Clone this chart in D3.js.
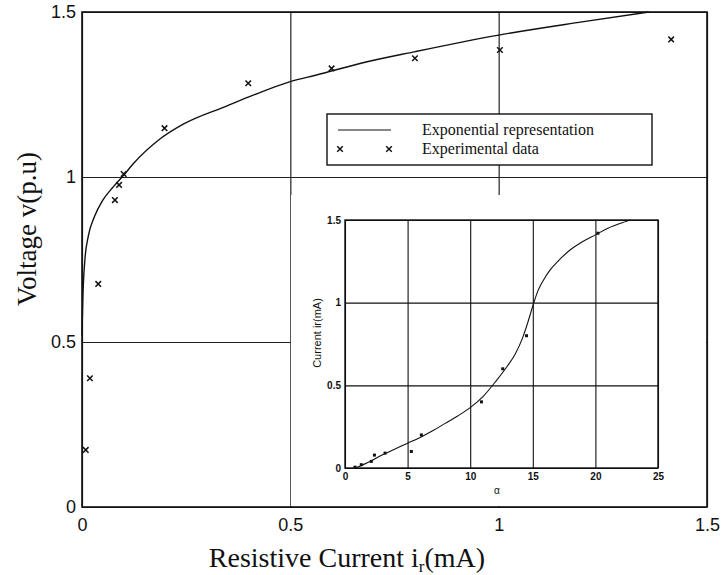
<!DOCTYPE html>
<html lang="en">
<head>
<meta charset="UTF-8">
<title>Voltage vs resistive current</title>
<script src="https://d3js.org/d3.v7.min.js"></script>
<style>
  body { margin: 0; background: #fff; }
  svg { display: block; }
  .serif { font-family: "Liberation Serif", "Times New Roman", serif; fill: #111; }
  .sans { font-family: "Liberation Sans", Arial, sans-serif; fill: #111; }
</style>
</head>
<body>
<script>
// main plot: fitted exponential curve (current mA, voltage p.u)
var mainCurve = [
  [0, 0.52], [0.002, 0.63], [0.007, 0.75], [0.015, 0.82], [0.03, 0.88],
  [0.05, 0.93], [0.075, 0.97], [0.103, 1.01], [0.123, 1.04], [0.187, 1.115],
  [0.243, 1.16], [0.347, 1.215], [0.411, 1.248], [0.5, 1.289], [0.563, 1.309],
  [0.667, 1.344], [0.8, 1.38], [1.0, 1.43], [1.2, 1.47], [1.36, 1.5]
];
// main plot: experimental points
var mainData = [
  [0.009, 0.173], [0.019, 0.39], [0.039, 0.676], [0.079, 0.93], [0.089, 0.976],
  [0.1, 1.009], [0.198, 1.148], [0.399, 1.284], [0.599, 1.329], [0.799, 1.36],
  [1.003, 1.385], [1.414, 1.417]
];
var mainTicks = [0, 0.5, 1, 1.5];

// inset: current vs alpha
var insetCurve = [
  [0.8, 0.0], [2, 0.04], [3, 0.08], [4, 0.115], [5, 0.15], [6, 0.185], [7, 0.225],
  [8, 0.27], [9, 0.315], [10, 0.365], [11, 0.43], [12, 0.52], [13, 0.62],
  [13.6, 0.69], [14.2, 0.79], [14.6, 0.88], [15, 0.98], [15.4, 1.07], [15.8, 1.13],
  [16.4, 1.2], [17, 1.25], [18, 1.32], [19, 1.37], [20, 1.41], [21, 1.45],
  [22, 1.48], [22.8, 1.5]
];
var insetData = [
  [0.8, 0.005], [1.3, 0.02], [2.1, 0.04], [2.35, 0.078], [3.2, 0.09], [5.3, 0.1],
  [6.1, 0.2], [10.9, 0.4], [12.6, 0.6], [14.5, 0.8], [20.2, 1.42]
];
var insetXTicks = [0, 5, 10, 15, 20, 25];
var insetYTicks = [0, 0.5, 1, 1.5];

var legendItems = ["Exponential representation", "Experimental data"];

var width = 722, height = 575;
var svg = d3.select("body").append("svg").attr("width", width).attr("height", height);

// ---------- main axes ----------
var x = d3.scaleLinear().domain([0, 1.5]).range([82, 707]);
var y = d3.scaleLinear().domain([0, 1.5]).range([507, 12]);

// grid lines
svg.append("g").attr("transform", "translate(0,507)")
  .call(d3.axisBottom(x).tickValues(mainTicks).tickSize(-495).tickFormat(""))
  .call(g => g.select(".domain").remove())
  .selectAll("line").attr("stroke", "#222").attr("stroke-width", 1.2);
svg.append("g").attr("transform", "translate(82,0)")
  .call(d3.axisLeft(y).tickValues(mainTicks).tickSize(-625).tickFormat(""))
  .call(g => g.select(".domain").remove())
  .selectAll("line").attr("stroke", "#222").attr("stroke-width", 1.2);

// tick labels
var xl = svg.append("g").attr("transform", "translate(0,510)")
  .call(d3.axisBottom(x).tickValues(mainTicks).tickSize(0).tickPadding(8).tickFormat(d3.format("")));
xl.select(".domain").remove();
xl.selectAll("text").attr("class", "sans").style("font-size", "18px").attr("font-family", null);
var yl = svg.append("g").attr("transform", "translate(79,0)")
  .call(d3.axisLeft(y).tickValues(mainTicks).tickSize(0).tickPadding(3).tickFormat(d3.format("")));
yl.select(".domain").remove();
yl.selectAll("text").attr("class", "sans").style("font-size", "18px").attr("font-family", null);

// curve and points
var line = d3.line().x(d => x(d[0])).y(d => y(d[1])).curve(d3.curveMonotoneX);
svg.append("path").datum(mainCurve).attr("d", line)
  .attr("fill", "none").attr("stroke", "#111").attr("stroke-width", 1.4);

var cross = d3.symbol().type(d3.symbolX).size(22);
svg.append("g").selectAll("path").data(mainData).enter().append("path")
  .attr("d", cross)
  .attr("transform", d => "translate(" + x(d[0]) + "," + y(d[1]) + ")")
  .attr("fill", "none").attr("stroke", "#111").attr("stroke-width", 1.5);

// legend
var lg = svg.append("g");
lg.append("rect").attr("x", 327).attr("y", 114).attr("width", 325).attr("height", 51)
  .attr("fill", "#fff").attr("stroke", "#111").attr("stroke-width", 1.4);
lg.append("line").attr("x1", 338).attr("x2", 391).attr("y1", 130).attr("y2", 130)
  .attr("stroke", "#111").attr("stroke-width", 1.2);
lg.selectAll(".lgx").data([340, 389]).enter().append("path")
  .attr("d", cross).attr("transform", d => "translate(" + d + ",149)")
  .attr("fill", "none").attr("stroke", "#111").attr("stroke-width", 1.5);
lg.selectAll("text").data(legendItems).enter().append("text")
  .attr("class", "serif").attr("x", 422).attr("y", (d, i) => 135 + i * 19)
  .style("font-size", "16px").text(d => d);

// ---------- inset ----------
svg.append("rect").attr("x", 291).attr("y", 195).attr("width", 415).attr("height", 311).attr("fill", "#fff");

var ix = d3.scaleLinear().domain([0, 25]).range([345, 658]);
var iy = d3.scaleLinear().domain([0, 1.5]).range([468, 220]);

svg.append("g").attr("transform", "translate(0,468)")
  .call(d3.axisBottom(ix).tickValues(insetXTicks).tickSize(-248).tickFormat(""))
  .call(g => g.select(".domain").remove())
  .selectAll("line").attr("stroke", "#111").attr("stroke-width", 1.1);
svg.append("g").attr("transform", "translate(345,0)")
  .call(d3.axisLeft(iy).tickValues(insetYTicks).tickSize(-313).tickFormat(""))
  .call(g => g.select(".domain").remove())
  .selectAll("line").attr("stroke", "#111").attr("stroke-width", 1.1);

var ixl = svg.append("g").attr("transform", "translate(0,469)")
  .call(d3.axisBottom(ix).tickValues(insetXTicks).tickSize(0).tickPadding(4).tickFormat(d3.format("")));
ixl.select(".domain").remove();
ixl.selectAll("text").attr("class", "sans").style("font-size", "10px").style("font-weight", "bold").attr("font-family", null);
var iyl = svg.append("g").attr("transform", "translate(343,0)")
  .call(d3.axisLeft(iy).tickValues(insetYTicks).tickSize(0).tickPadding(2).tickFormat(d3.format("")));
iyl.select(".domain").remove();
iyl.selectAll("text").attr("class", "sans").style("font-size", "10px").style("font-weight", "bold").attr("font-family", null);

svg.append("rect").attr("x", 345).attr("y", 220).attr("width", 313).attr("height", 248)
  .attr("fill", "none").attr("stroke", "#111").attr("stroke-width", 1.4);

var iline = d3.line().x(d => ix(d[0])).y(d => iy(d[1])).curve(d3.curveMonotoneX);
svg.append("path").datum(insetCurve).attr("d", iline)
  .attr("fill", "none").attr("stroke", "#111").attr("stroke-width", 1.1);
svg.append("g").selectAll("rect").data(insetData).enter().append("rect")
  .attr("x", d => ix(d[0]) - 1.5).attr("y", d => iy(d[1]) - 1.5)
  .attr("width", 3).attr("height", 3).attr("fill", "#111");

svg.append("text").attr("class", "sans").attr("x", 497).attr("y", 494)
  .attr("text-anchor", "middle").style("font-size", "10px").text("α");
svg.append("text").attr("class", "sans")
  .attr("transform", "translate(321,333) rotate(-90)")
  .attr("text-anchor", "middle").style("font-size", "11px").text("Current ir(mA)");

// main frame on top
svg.append("rect").attr("x", 82).attr("y", 12).attr("width", 625).attr("height", 495)
  .attr("fill", "none").attr("stroke", "#111").attr("stroke-width", 1.6);

// axis titles
var xt = svg.append("text").attr("class", "serif").attr("x", 347).attr("y", 567)
  .attr("text-anchor", "middle").style("font-size", "28px");
xt.append("tspan").text("Resistive Current i");
xt.append("tspan").attr("dy", 5).style("font-size", "17px").text("r");
xt.append("tspan").attr("dy", -5).text("(mA)");

svg.append("text").attr("class", "serif")
  .attr("transform", "translate(36,229) rotate(-90)")
  .attr("text-anchor", "middle").style("font-size", "27px").text("Voltage v(p.u)");
</script>
</body>
</html>
